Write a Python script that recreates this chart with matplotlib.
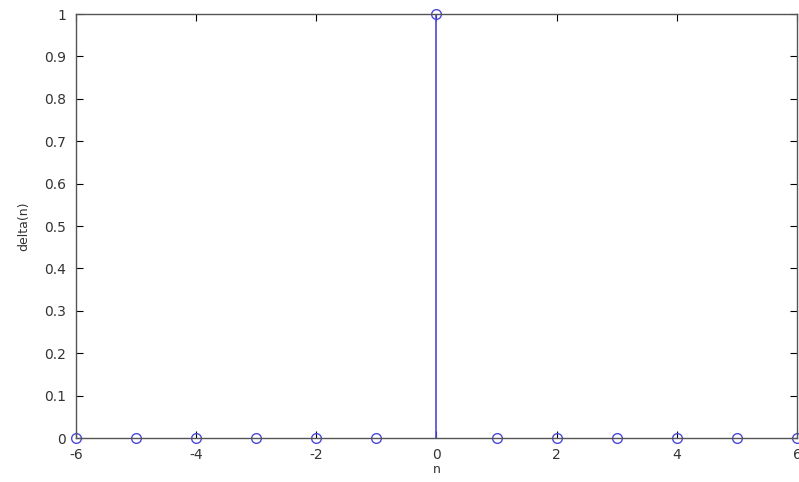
import numpy as np
import matplotlib.pyplot as plt

# unit impulse delta(n) for n = -6..6
n = np.arange(-6, 7)
delta = np.array([0, 0, 0, 0, 0, 0, 1, 0, 0, 0, 0, 0, 0])

xticks = [-6, -4, -2, 0, 2, 4, 6]
yticks = np.round(np.arange(0, 1.01, 0.1), 1)
ytick_labels = ['0', '0.1', '0.2', '0.3', '0.4', '0.5', '0.6', '0.7', '0.8', '0.9', '1']

blue = '#4a4ad8'

fig = plt.figure(figsize=(7.99, 4.82), dpi=100)
ax = fig.add_axes([76 / 799, 44 / 482, 721 / 799, 424 / 482])

markerline, stemlines, baseline = ax.stem(n, delta, basefmt=' ')
plt.setp(stemlines, color=blue, linewidth=1.2)
plt.setp(markerline, color=blue, marker='o', markerfacecolor='none',
         markeredgecolor=blue, markersize=7, markeredgewidth=1.0, clip_on=False)

ax.set_xlim(-6, 6)
ax.set_ylim(0, 1)
ax.set_xticks(xticks)
ax.set_xticklabels([str(t) for t in xticks])
ax.set_yticks(yticks)
ax.set_yticklabels(ytick_labels)
ax.tick_params(direction='in', length=5, labelsize=10, labelcolor='#333333',
               top=True, right=True, width=0.8)
ax.tick_params(axis='x', pad=7)
ax.tick_params(axis='y', pad=7)
for s in ax.spines.values():
    s.set_color('#555555')
    s.set_linewidth(1.0)

ax.set_xlabel('n', fontsize=9, color='#333333', labelpad=1)
ax.set_ylabel('delta(n)', fontsize=9, color='#333333', labelpad=10)

fig.savefig('out.png', dpi=100)
